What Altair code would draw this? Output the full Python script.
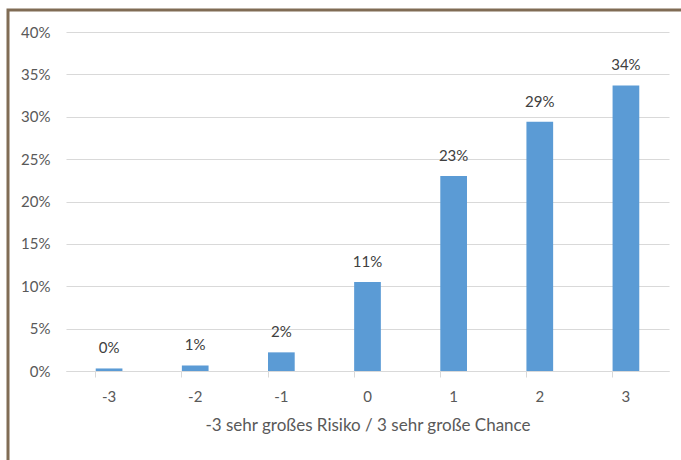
import altair as alt
import pandas as pd

categories = ["-3", "-2", "-1", "0", "1", "2", "3"]
values = [0.003, 0.0065, 0.022, 0.105, 0.230, 0.294, 0.337]
labels = ["0%", "1%", "2%", "11%", "23%", "29%", "34%"]

df = pd.DataFrame({"cat": categories, "val": values, "lab": labels})

FONT = "Lato"
GREY = "#595959"

x = alt.X("cat:N", sort=categories,
          scale=alt.Scale(paddingInner=0.69, paddingOuter=0.345),
          axis=alt.Axis(title="-3 sehr großes Risiko / 3 sehr große Chance",
                        labelAngle=0, bandPosition=0, tickSize=6,
                        tickColor="#d9d9d9", domainColor="#d9d9d9",
                        labelPadding=12, titlePadding=13,
                        labelFont=FONT, titleFont=FONT, labelFontSize=15,
                        titleFontSize=17, titleFontWeight="normal",
                        labelColor=GREY, titleColor=GREY))
y = alt.Y("val:Q", scale=alt.Scale(domain=[0, 0.4], nice=False),
          axis=alt.Axis(title=None, format=".0%", values=[0, .05, .1, .15, .2, .25, .3, .35, .4],
                        domain=False, ticks=False, gridColor="#d9d9d9",
                        labelPadding=16, labelFont=FONT, labelFontSize=15,
                        labelColor=GREY))

bars = alt.Chart(df).mark_bar(color="#5b9bd5").encode(x=x, y=y)
text = alt.Chart(df).mark_text(baseline="bottom", dy=-12, font=FONT,
                               fontSize=15, color="#404040").encode(
    x=alt.X("cat:N", sort=categories), y="val:Q", text="lab:N")

frame_df = pd.DataFrame({"k": [0]})
frame = alt.Chart(frame_df).mark_rect(fill=None, stroke="#806c55", strokeWidth=3).encode(
    x=alt.value(-58), x2=alt.value(700), y=alt.value(-22), y2=alt.value(480))

chart = alt.layer(bars, text, frame).properties(
    width=603, height=339,
    autosize=alt.AutoSizeParams(type="none"),
    padding={"left": 66, "top": 32, "right": 12, "bottom": 89},
    background="white",
).configure_view(stroke=None)

chart.save("out.html", embed_options={"renderer": "svg", "actions": False})
